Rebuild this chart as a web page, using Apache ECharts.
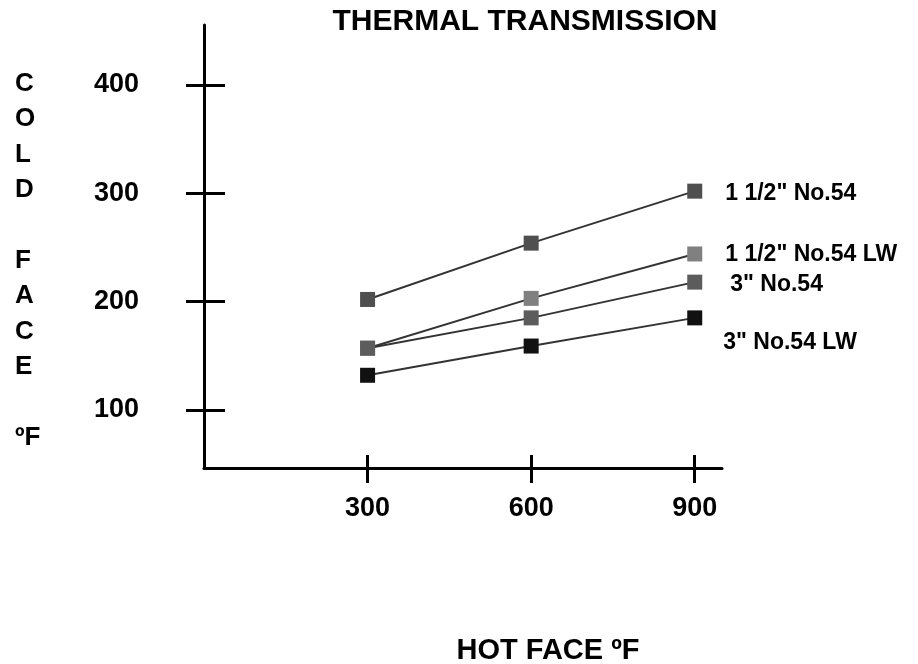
<!DOCTYPE html>
<html>
<head>
<meta charset="utf-8">
<script src="https://cdn.jsdelivr.net/npm/echarts@6/dist/echarts.min.js"></script>
<style>
html,body{margin:0;padding:0;background:#fff;}
#chart{width:918px;height:664px;}
</style>
</head>
<body>
<div id="chart"></div>
<script>
var hotFace = [300, 600, 900];
var seriesNames = ['1 1/2" No.54', '1 1/2" No.54 LW', '3" No.54', '3" No.54 LW'];
var s1 = [202, 254, 302];
var s2 = [157, 203, 244];
var s3 = [157, 185, 218];
var s4 = [132, 159, 185];
var yTicks = [100, 200, 300, 400];
var xTicks = [300, 600, 900];
var titleText = 'THERMAL TRANSMISSION';
var xName = 'HOT FACE \u00baF';
var yName = 'C\nO\nL\nD\n\nF\nA\nC\nE\n\n\u00baF';

var FONT = "'Liberation Sans', Arial, sans-serif";
var markerColors = ['#4f4f4f', '#808080', '#5c5c5c', '#111111'];
var labelOffsets = [[8, 3], [8, 1], [13, 3], [6, 25]];
var allData = [s1, s2, s3, s4];

function pairs(vals) { return hotFace.map(function (x, i) { return [x, vals[i]]; }); }

var chart = echarts.init(document.getElementById('chart'), null, {renderer: 'canvas'});

var series = allData.map(function (vals, k) {
  return {
    name: seriesNames[k],
    type: 'line',
    data: pairs(vals),
    xAxisIndex: 0,
    yAxisIndex: 0,
    symbol: 'rect',
    symbolSize: 15,
    showAllSymbol: true,
    lineStyle: {color: '#333333', width: 2},
    itemStyle: {color: markerColors[k], borderWidth: 0},
    emphasis: {disabled: true},
    animation: false,
    z: 3 + k,
    label: {
      show: true,
      position: 'right',
      distance: 15,
      offset: labelOffsets[k],
      color: '#000',
      fontFamily: FONT,
      fontWeight: 'bold',
      fontSize: 23,
      formatter: function (p) { return p.dataIndex === hotFace.length - 1 ? seriesNames[k] : ''; }
    }
  };
});

var yBase = {
  type: 'value',
  min: 46.4,
  max: 455.4,
  position: 'left',
  splitLine: {show: false}
};
var xBase = {
  type: 'value',
  min: 0,
  max: 950,
  position: 'bottom',
  splitLine: {show: false}
};

var option = {
  animation: false,
  backgroundColor: '#ffffff',
  grid: {left: 204, right: 196, top: 25, bottom: 196, containLabel: false},
  xAxis: [
    Object.assign({}, xBase, {
      axisLine: {show: true, lineStyle: {color: '#000', width: 3}},
      axisTick: {show: true, inside: false, length: 15, lineStyle: {color: '#000', width: 3}, customValues: xTicks},
      axisLabel: {show: true, margin: 27, color: '#000', fontFamily: FONT, fontWeight: 'bold', fontSize: 27, customValues: xTicks}
    }),
    Object.assign({}, xBase, {
      axisLine: {show: false},
      axisTick: {show: true, inside: true, length: 13, lineStyle: {color: '#000', width: 3}, customValues: xTicks},
      axisLabel: {show: false}
    })
  ],
  yAxis: [
    Object.assign({}, yBase, {
      axisLine: {show: true, lineStyle: {color: '#000', width: 3}},
      axisTick: {show: true, inside: false, length: 18, lineStyle: {color: '#000', width: 3}, customValues: yTicks},
      axisLabel: {show: true, margin: 65, color: '#000', fontFamily: FONT, fontWeight: 'bold', fontSize: 27, customValues: yTicks}
    }),
    Object.assign({}, yBase, {
      axisLine: {show: false},
      axisTick: {show: true, inside: true, length: 21, lineStyle: {color: '#000', width: 3}, customValues: yTicks},
      axisLabel: {show: false}
    })
  ],
  series: series,
  graphic: [
    {
      type: 'text', x: 525, y: 22,
      style: {text: titleText, fill: '#000', font: 'bold 30px ' + FONT, align: 'center', verticalAlign: 'middle'}
    },
    {
      type: 'text', x: 548, y: 651,
      style: {text: xName, fill: '#000', font: 'bold 29px ' + FONT, align: 'center', verticalAlign: 'middle'}
    },
    {
      type: 'text', x: 15, y: 66,
      style: {text: yName, fill: '#000', font: 'bold 26px ' + FONT, lineHeight: 35.4, align: 'left', verticalAlign: 'top'}
    }
  ]
};
chart.setOption(option);
</script>
</body>
</html>
